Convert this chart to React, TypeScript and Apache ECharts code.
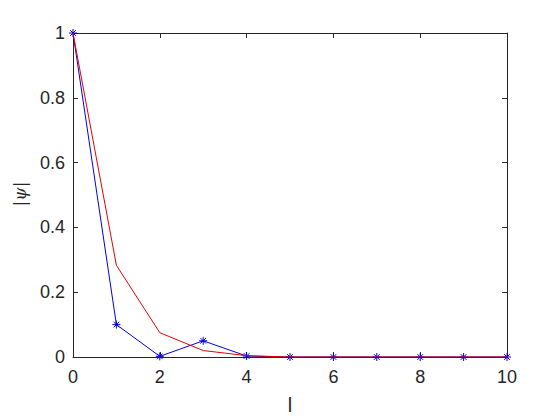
import React, { useEffect, useRef } from "react";
import * as echarts from "echarts";

const lValues = [0, 1, 2, 3, 4, 5, 6, 7, 8, 9, 10];
const bluePsi = [1, 0.1, 0.002, 0.05, 0.003, 0, 0, 0, 0, 0, 0];
const redPsi = [1, 0.283, 0.075, 0.02, 0.004, 0, 0, 0, 0, 0, 0];
const xTicks = [0, 2, 4, 6, 8, 10];
const yTicks = [0, 0.2, 0.4, 0.6, 0.8, 1];

const ASTERISK =
  "path://M0,-1L0,1M-1,0L1,0M-0.7,-0.7L0.7,0.7M-0.7,0.7L0.7,-0.7";

export default function App() {
  const ref = useRef<HTMLDivElement>(null);
  useEffect(() => {
    if (!ref.current) return;
    const chart = echarts.init(ref.current, undefined, { renderer: "svg" });
    const axisColor = "#262626";
    const font = "Arial, 'Liberation Sans', sans-serif";
    const baseX = {
      type: "value" as const,
      min: 0,
      max: 10,
      interval: 2,
      splitLine: { show: false },
      axisLine: { show: true, onZero: false, lineStyle: { color: axisColor, width: 1 } },
      axisTick: { show: true, inside: true, length: 5, lineStyle: { color: axisColor } },
    };
    const baseY = {
      type: "value" as const,
      min: 0,
      max: 1,
      interval: 0.2,
      splitLine: { show: false },
      axisLine: { show: true, onZero: false, lineStyle: { color: axisColor, width: 1 } },
      axisTick: { show: true, inside: true, length: 5, lineStyle: { color: axisColor } },
    };
    chart.setOption({
      animation: false,
      backgroundColor: "#ffffff",
      grid: { left: 73, right: 53, top: 33, bottom: 63 },
      xAxis: [
        {
          ...baseX,
          position: "bottom",
          axisLabel: {
            show: true,
            color: axisColor,
            fontSize: 18,
            fontFamily: font,
            margin: 11,
            formatter: (v: number) => (xTicks.includes(v) ? String(v) : ""),
          },
        },
        { ...baseX, position: "top", axisLabel: { show: false } },
      ],
      yAxis: [
        {
          ...baseY,
          position: "left",
          axisLabel: {
            show: true,
            color: axisColor,
            fontSize: 18,
            fontFamily: font,
            margin: 8,
            formatter: (v: number) => {
              const t = yTicks.find((y) => Math.abs(y - v) < 1e-9);
              return t === undefined ? "" : String(Math.round(t * 10) / 10);
            },
          },
        },
        { ...baseY, position: "right", axisLabel: { show: false } },
      ],
      graphic: [
        {
          type: "text",
          x: 20,
          y: 194,
          rotation: Math.PI / 2,
          style: {
            text: "|ψ|",
            fill: axisColor,
            font: "italic 17px 'DejaVu Serif', serif",
            align: "center",
            verticalAlign: "middle",
          },
        },
        {
          type: "text",
          x: 290,
          y: 405,
          style: {
            text: "l",
            fill: axisColor,
            font: "20px Arial, 'Liberation Sans', sans-serif",
            align: "center",
            verticalAlign: "middle",
          },
        },
      ],
      series: [
        {
          type: "line",
          data: lValues.map((l, i) => [l, bluePsi[i]]),
          lineStyle: { color: "#0000e6", width: 1 },
          symbol: ASTERISK,
          symbolSize: 8,
          showSymbol: true,
          itemStyle: { color: "none", borderColor: "#0000e6", borderWidth: 1 },
          z: 2,
        },
        {
          type: "line",
          data: lValues.map((l, i) => [l, redPsi[i]]),
          lineStyle: { color: "#e60000", width: 1 },
          symbol: "none",
          showSymbol: false,
          z: 3,
        },
      ],
    });
    return () => chart.dispose();
  }, []);
  return <div ref={ref} style={{ width: 560, height: 420, margin: -8 }} />;
}
